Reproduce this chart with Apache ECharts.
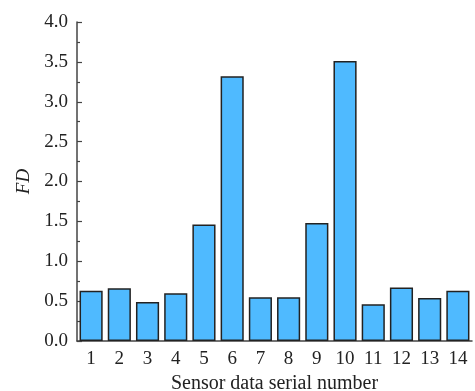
<!DOCTYPE html>
<html><head><meta charset="utf-8">
<script src="https://cdn.jsdelivr.net/npm/echarts@6/dist/echarts.min.js"></script>
<style>html,body{margin:0;padding:0;background:#fff}#c{width:475px;height:391px}</style>
</head><body><div id="c"></div>
<script>
const categories = ['1','2','3','4','5','6','7','8','9','10','11','12','13','14'];
const fdValues = [0.63, 0.66, 0.49, 0.60, 1.46, 3.32, 0.55, 0.55, 1.48, 3.51, 0.46, 0.67, 0.54, 0.63];
const xAxisName = 'Sensor data serial number';
const yAxisName = 'FD';

const font = 'Liberation Serif';
const txt = '#222';
const axisCol = '#444';
const chart = echarts.init(document.getElementById('c'));
chart.setOption({
  animation: false,
  grid: {left: 77, right: 3, top: 22, bottom: 50, outerBoundsMode: 'none', containLabel: false},
  xAxis: [{
    type: 'category', data: categories,
    name: xAxisName, nameLocation: 'middle', nameGap: 30,
    nameTextStyle: {fontFamily: font, fontSize: 20, color: txt},
    axisLine: {lineStyle: {color: axisCol, width: 1.5}},
    axisTick: {inside: true, alignWithLabel: true, length: 5, lineStyle: {color: axisCol, width: 1.2}},
    axisLabel: {fontFamily: font, fontSize: 19, color: txt, margin: 9}
  }, {
    type: 'category', data: categories, position: 'bottom',
    axisLine: {show: false},
    axisTick: {inside: true, alignWithLabel: false, length: 3, lineStyle: {color: axisCol, width: 1.2}},
    axisLabel: {show: false}
  }],
  yAxis: {
    type: 'value', min: 0, max: 4, interval: 0.5,
    name: yAxisName, nameLocation: 'middle', nameGap: 44,
    nameTextStyle: {fontFamily: font, fontSize: 19, fontStyle: 'italic', color: txt},
    axisLine: {show: true, lineStyle: {color: axisCol, width: 1.5}},
    axisTick: {show: true, inside: true, length: 5, lineStyle: {color: axisCol, width: 1.2}},
    minorTick: {show: true, splitNumber: 2, length: 3, lineStyle: {color: axisCol, width: 1.2}},
    splitLine: {show: false},
    axisLabel: {fontFamily: font, fontSize: 19, color: txt, margin: 9, formatter: v => v.toFixed(1)}
  },
  series: [{
    type: 'bar', data: fdValues, barCategoryGap: '18%',
    itemStyle: {color: '#4fbaff', borderColor: '#222', borderWidth: 1.5}
  }]
});
</script></body></html>
